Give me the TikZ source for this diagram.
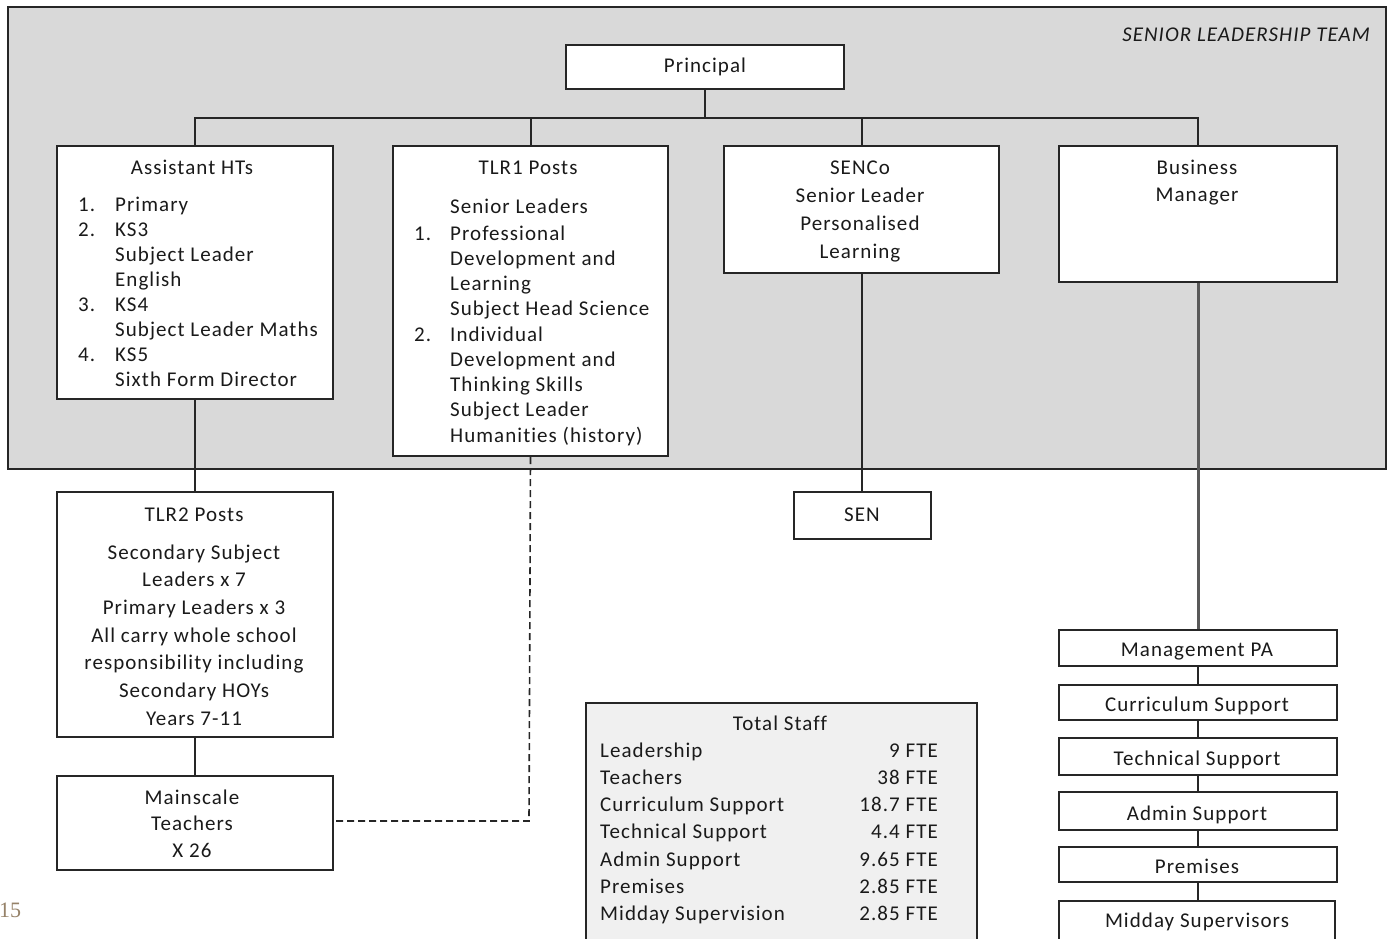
\documentclass[tikz,border=0pt]{standalone}
\usepackage{fontspec}
\setmainfont{Carlito}[LetterSpace=5,Ligatures=CommonOff]
\newfontfamily\pagenumfont{Liberation Serif}
\definecolor{sltgray}{HTML}{D9D9D9}
\definecolor{totfill}{HTML}{F0F0F0}
\definecolor{linecol}{HTML}{262626}
\definecolor{txtcol}{HTML}{1A1A1A}
\definecolor{pgcol}{RGB}{150,130,105}
\newcommand\txtlines[6]{%
  \foreach \t [count=\i] in {#5} \node[txt,#6] (#1-\i) at (#2,{#3+(\i-1)*#4}) {\t};}
\tikzset{
  box/.style={draw=linecol, line width=2pt, fill=white, inner sep=0pt, anchor=north west},
  txt/.style={inner sep=0pt, text=txtcol, font=\fontsize{21}{25}\selectfont, anchor=base},
  lft/.style={anchor=base west},
  rgt/.style={anchor=base east},
  conn/.style={draw=linecol, line width=2pt},
}
\newcommand\boxat[5]{\node[box, minimum width=#4-#2, minimum height=#5-#3] (#1) at (#2,#3) {};}
\begin{document}
\begin{tikzpicture}[x=1pt,y=-1pt]
\useasboundingbox (0,0) rectangle (1388,938);
\clip (0,0) rectangle (1388,938);
% Senior leadership team area
\node[draw=linecol, line width=2pt, fill=sltgray, anchor=north west, inner sep=0pt,
  minimum width=1378, minimum height=462] (slt) at (7,6) {};
\node[txt, anchor=base east, font=\fontsize{21}{25}\selectfont\itshape] (sltlabel) at (1370,41) {SENIOR LEADERSHIP TEAM};

% boxes
\boxat{principal}{565}{44}{843}{88}
\boxat{aht}{56}{145}{332}{398}
\boxat{tlr1}{392}{145}{667}{455}
\boxat{senco}{723}{145}{998}{272}
\boxat{bm}{1058}{145}{1336}{281}
\boxat{tlr2}{56}{491}{332}{736}
\boxat{mains}{56}{775}{332}{869}
\boxat{sen}{793}{491}{930}{538}
\boxat{mpa}{1058}{629}{1336}{665}
\boxat{cs}{1058}{684}{1336}{719}
\boxat{ts}{1058}{737}{1336}{774}
\boxat{as}{1058}{791}{1336}{829}
\boxat{prem}{1058}{846}{1336}{881}
\boxat{mid}{1058}{900}{1334}{950}
\node[draw=linecol, line width=2pt, fill=totfill, anchor=north west, inner sep=0pt,
  minimum width=391, minimum height=250] (tot) at (585,702) {};

% connectors
\coordinate (hub) at (705,118);
\draw[conn] (principal.south -| hub) -- (hub);
\draw[conn] (aht.north) |- (hub) -| (bm.north);
\draw[conn] (tlr1.north) -- (tlr1.north |- hub);
\draw[conn] (senco.north) -- (senco.north |- hub);
\draw[conn] (aht.south) -- (tlr2.north);
\draw[conn] (tlr2.south) -- (mains.north);
\draw[conn] (senco.south) -- (senco.south |- sen.north);
\draw[draw=gray!70!black, line width=3pt] (bm.south) -- (bm.south |- mpa.north);
\draw[conn] (mpa.south) -- (cs.north);
\draw[conn] (cs.south) -- (ts.north);
\draw[conn] (ts.south) -- (as.north);
\draw[conn] (as.south) -- (prem.north);
\draw[conn] (prem.south) -- (prem.south |- mid.north);
\coordinate (dashcorner) at (529,821);
\draw[draw=linecol, line width=1.6pt, dash pattern=on 7pt off 4pt] (tlr1.south) -- (dashcorner) -- (mains.east |- dashcorner);

% texts
\node[txt] (ptxt) at (705,72) {Principal};

\node[txt] (ahttitle) at (192,174) {Assistant HTs};
\txtlines{ahtl}{115}{211}{25.14}{Primary,KS3,Subject Leader,English,KS4,Subject Leader Maths,KS5,Sixth Form Director}{lft}
\node[txt,lft] (n1) at (78,211) {1.};
\node[txt,lft] (n2) at (78,236.14) {2.};
\node[txt,lft] (n3) at (78,311.56) {3.};
\node[txt,lft] (n4) at (78,361.84) {4.};

\node[txt] (tlr1title) at (528,174) {TLR1 Posts};
\node[txt,lft] (tlr1sl) at (450,213) {Senior Leaders};
\txtlines{tlr1l}{450}{240}{25.25}{Professional,Development  and,Learning,Subject Head Science,Individual,Development  and,Thinking Skills,Subject Leader,Humanities  (history)}{lft}
\node[txt,lft] (m1) at (414,240) {1.};
\node[txt,lft] (m2) at (414,341) {2.};

\txtlines{sencol}{860}{174}{28}{SENCo,Senior Leader,Personalised,Learning}{}
\txtlines{bml}{1197}{174}{27}{Business,Manager}{}

\node[txt] (tlr2title) at (194,521) {TLR2 Posts};
\txtlines{tlr2l}{194}{559}{27.7}{Secondary Subject,Leaders x 7,Primary Leaders x 3,All carry whole school,responsibility including,Secondary HOYs,Years 7-11}{}
\txtlines{mainsl}{192}{804}{26.5}{Mainscale,Teachers,X 26}{}

\node[txt] (sentxt) at (862,521) {SEN};
\node[txt] (mpatxt) at (1197,656) {Management PA};
\node[txt] (cstxt) at (1197,711) {Curriculum Support};
\node[txt] (tstxt) at (1197,765) {Technical Support};
\node[txt] (astxt) at (1197,820) {Admin Support};
\node[txt] (premtxt) at (1197,873) {Premises};
\node[txt] (midtxt) at (1197,927) {Midday Supervisors};

\node[txt] (tottitle) at (780,730) {Total Staff};
\txtlines{totl}{600}{757}{27.3}{Leadership,Teachers,Curriculum Support,Technical Support,Admin Support,Premises,Midday Supervision}{lft}
\txtlines{totv}{938}{757}{27.3}{9 FTE,38 FTE,18.7 FTE,4.4 FTE,9.65 FTE,2.85 FTE,2.85 FTE}{rgt}

\node[inner sep=0pt, anchor=base west, text=pgcol, font=\pagenumfont\fontsize{22}{25}\selectfont] (pagenum) at (-1,917) {15};
\end{tikzpicture}
\end{document}
